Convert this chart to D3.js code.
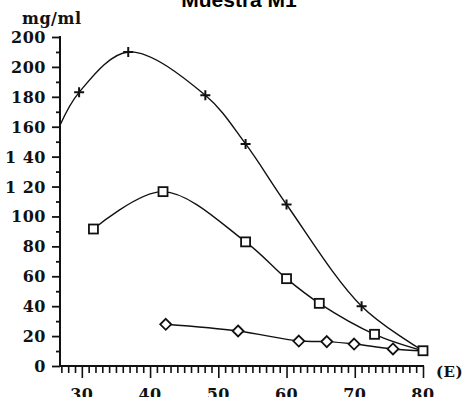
<!DOCTYPE html>
<html lang="es">
	<head>
		<meta charset="utf-8">
		<title>Muestra M1</title>
		<script type="text/javascript" src="https://cdn.jsdelivr.net/npm/d3@7/dist/d3.min.js"></script>
		<style type="text/css">
			body {
			  margin: 0;
			  background: #fff;
			}
			.lbl {
			  font-family: "DejaVu Serif", "Liberation Serif", serif;
			  font-weight: bold;
			  fill: #111;
			}
		</style>
	</head>
	<body>
		<script>

			// data
			var plusX = [26.8, 29.6, 36.8, 48.1, 54.0, 60.0, 71.0, 80];
			var plusY = [161, 183, 210, 181, 148.5, 108, 40, 10.2];
			var plusMarked = [false, true, true, true, true, true, true, false];

			var squareX = [31.7, 41.9, 54.0, 60.0, 64.8, 72.9, 80];
			var squareY = [91.6, 116.6, 83, 58.4, 41.9, 21.2, 10.2];

			var diamondX = [42.3, 52.9, 61.8, 65.9, 69.9, 75.6, 80];
			var diamondY = [27.9, 23.4, 16.7, 16.3, 14.7, 11.4, 10.2];
			var diamondMarked = [true, true, true, true, true, true, false];

			var yTickValues = [0, 20, 40, 60, 80, 100, 120, 140, 160, 180, 200, 220];
			var yTickLabels = ["0", "20", "40", "60", "80", "100", "1 20", "1 40", "160", "180", "200", "200"];
			var xTickValues = [30, 40, 50, 60, 70, 80];

			var width = 467,
				height = 397;

			var svg = d3.select("body").append("svg")
				.attr("width", width)
				.attr("height", height);

			var x = d3.scaleLinear()
				.domain([26.8, 80])
				.range([60, 423]);

			var y = d3.scaleLinear()
				.domain([0, 220])
				.range([366, 37]);

			// title, cut at the top like the scan
			svg.append("text")
				.attr("x", 239)
				.attr("y", 7)
				.attr("text-anchor", "middle")
				.style("font-family", "'Liberation Sans', Arial, sans-serif")
				.style("font-weight", "bold")
				.style("font-size", "21px")
				.text("Muestra M1");

			svg.append("text")
				.attr("class", "lbl")
				.attr("x", 22)
				.attr("y", 24)
				.style("font-size", "16px")
				.style("letter-spacing", "0.5px")
				.text("mg/ml");

			svg.append("text")
				.attr("class", "lbl")
				.attr("x", 436)
				.attr("y", 377)
				.style("font-size", "15px")
				.style("letter-spacing", "0.5px")
				.text("(E)");

			// y axis
			var yAxis = d3.axisLeft(y)
				.tickValues(d3.range(0, 221, 10))
				.tickSize(0)
				.tickFormat("");

			var gy = svg.append("g")
				.attr("transform", "translate(" + x(26.8) + ",0)")
				.call(yAxis);
			gy.select(".domain").remove();
			gy.selectAll(".tick line")
				.attr("x2", function(d) { return d % 20 === 0 ? -8 : -4; })
				.attr("stroke", "#111")
				.attr("stroke-width", 1.8);

			svg.append("line")
				.attr("x1", x(26.8)).attr("x2", x(26.8))
				.attr("y1", y(220) - 1).attr("y2", y(0) + 1)
				.attr("stroke", "#111")
				.attr("stroke-width", 2);

			svg.selectAll(".ylab")
				.data(yTickValues)
				.enter().append("text")
				.attr("class", "lbl ylab")
				.attr("x", 46)
				.attr("y", function(d) { return y(d) + 6; })
				.attr("text-anchor", "end")
				.style("font-size", "16px")
				.style("letter-spacing", "0.5px")
				.text(function(d, i) { return yTickLabels[i]; });

			// x axis
			var xAxis = d3.axisBottom(x)
				.tickValues(d3.range(27, 81, 1))
				.tickSize(0)
				.tickFormat("");

			var gx = svg.append("g")
				.attr("transform", "translate(0," + y(0) + ")")
				.call(xAxis);
			gx.select(".domain").remove();
			gx.selectAll(".tick line")
				.attr("y2", function(d) { return d % 10 === 0 ? 12 : 7; })
				.attr("stroke", "#111")
				.attr("stroke-width", 1.6);

			svg.append("line")
				.attr("x1", x(26.8) - 1).attr("x2", x(80) + 1)
				.attr("y1", y(0)).attr("y2", y(0))
				.attr("stroke", "#111")
				.attr("stroke-width", 2.2);

			svg.selectAll(".xlab")
				.data(xTickValues)
				.enter().append("text")
				.attr("class", "lbl xlab")
				.attr("x", function(d) { return x(d); })
				.attr("y", 400)
				.attr("text-anchor", "middle")
				.style("font-size", "16px")
				.style("letter-spacing", "0.5px")
				.text(function(d) { return d; });

			// curves
			var line = d3.line()
				.x(function(d) { return x(d[0]); })
				.y(function(d) { return y(d[1]); })
				.curve(d3.curveCatmullRom.alpha(0.5));

			var plusPts = d3.zip(plusX, plusY);
			var squarePts = d3.zip(squareX, squareY);
			var diamondPts = d3.zip(diamondX, diamondY);

			[plusPts, squarePts, diamondPts].forEach(function(pts) {
				svg.append("path")
					.datum(pts)
					.attr("d", line)
					.attr("fill", "none")
					.attr("stroke", "#111")
					.attr("stroke-width", 1.4);
			});

			// markers
			svg.selectAll(".plus")
				.data(plusPts.filter(function(d, i) { return plusMarked[i]; }))
				.enter().append("path")
				.attr("class", "plus")
				.attr("transform", function(d) { return "translate(" + x(d[0]) + "," + y(d[1]) + ")"; })
				.attr("d", "M-5,0H5M0,-5V5")
				.attr("stroke", "#111")
				.attr("stroke-width", 2);

			svg.selectAll(".sq")
				.data(squarePts)
				.enter().append("rect")
				.attr("class", "sq")
				.attr("x", function(d) { return x(d[0]) - 4.5; })
				.attr("y", function(d) { return y(d[1]) - 4.5; })
				.attr("width", 9)
				.attr("height", 9)
				.attr("fill", "#fff")
				.attr("stroke", "#111")
				.attr("stroke-width", 1.8);

			svg.selectAll(".dia")
				.data(diamondPts.filter(function(d, i) { return diamondMarked[i]; }))
				.enter().append("path")
				.attr("class", "dia")
				.attr("transform", function(d) { return "translate(" + x(d[0]) + "," + y(d[1]) + ")"; })
				.attr("d", "M0,-5.5L5.5,0L0,5.5L-5.5,0Z")
				.attr("fill", "#fff")
				.attr("stroke", "#111")
				.attr("stroke-width", 1.8);

		</script>
	</body>
</html>
